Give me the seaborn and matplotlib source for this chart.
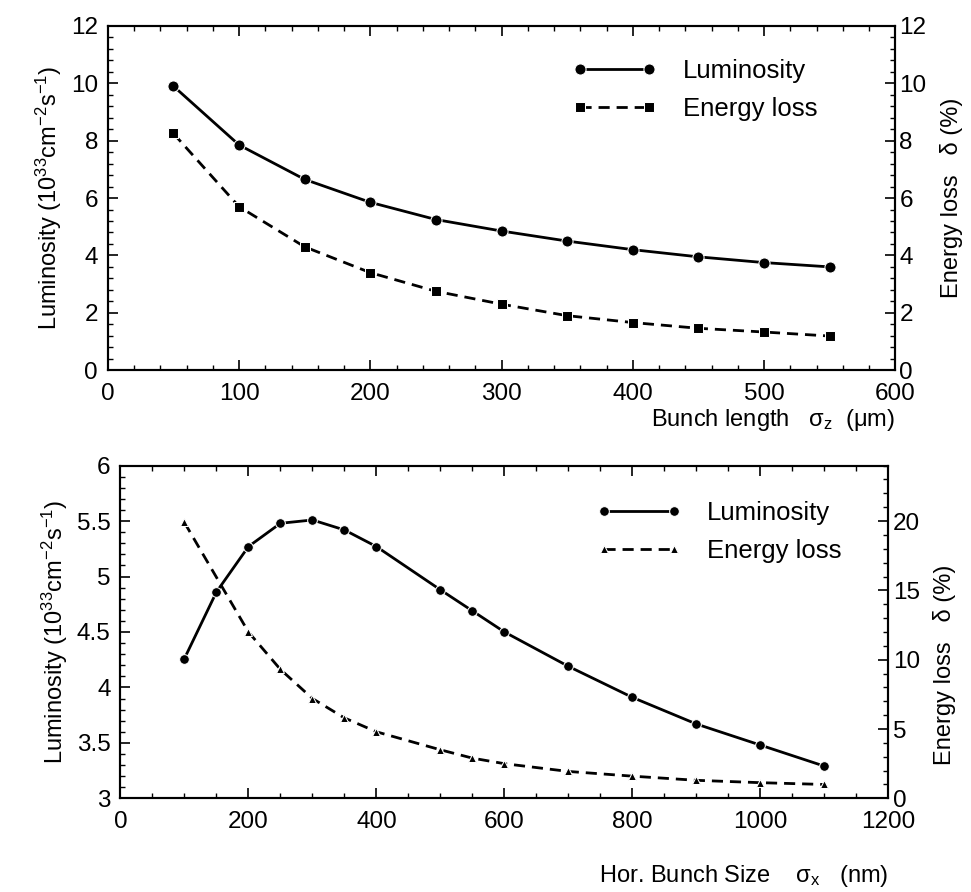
import numpy as np
import pandas as pd
import seaborn as sns
import matplotlib
matplotlib.use('Agg')
import matplotlib.pyplot as plt
from matplotlib.ticker import AutoMinorLocator, MultipleLocator

# top panel: bunch length scan
bunch_len = [50, 100, 150, 200, 250, 300, 350, 400, 450, 500, 550]
lum_len = [9.9, 7.85, 6.65, 5.85, 5.25, 4.85, 4.5, 4.2, 3.95, 3.75, 3.6]
eloss_len = [8.25, 5.7, 4.3, 3.4, 2.75, 2.3, 1.9, 1.66, 1.46, 1.33, 1.19]

# bottom panel: horizontal bunch size scan
hor_lum_x = [100, 150, 200, 250, 300, 350, 400, 500, 550, 600, 700, 800, 900, 1000, 1100]
hor_lum = [4.26, 4.86, 5.27, 5.48, 5.51, 5.42, 5.27, 4.88, 4.69, 4.5, 4.19, 3.91, 3.67, 3.48, 3.29]
hor_eloss_x = [100, 200, 250, 300, 350, 400, 500, 550, 600, 700, 800, 900, 1000, 1100]
hor_eloss = [19.9, 12.0, 9.3, 7.2, 5.8, 4.8, 3.5, 2.9, 2.5, 1.94, 1.6, 1.3, 1.13, 1.0]

sns.set_theme(style='ticks')
plt.rcParams['font.family'] = ['Liberation Sans', 'DejaVu Sans']
plt.rcParams['mathtext.fontset'] = 'custom'
plt.rcParams['mathtext.rm'] = 'Liberation Sans'
plt.rcParams['mathtext.it'] = 'Liberation Sans'
plt.rcParams['text.color'] = 'black'
plt.rcParams['axes.labelcolor'] = 'black'
plt.rcParams['xtick.color'] = 'black'
plt.rcParams['ytick.color'] = 'black'

fig = plt.figure(figsize=(9.71, 8.92), dpi=100)
ax1 = fig.add_axes([0.111, 0.585, 0.811, 0.386])
ax3 = fig.add_axes([0.124, 0.105, 0.791, 0.373])

top = pd.DataFrame({'x': bunch_len, 'lum': lum_len, 'eloss': eloss_len})
bl = pd.DataFrame({'x': hor_lum_x, 'lum': hor_lum})
be = pd.DataFrame({'x': hor_eloss_x, 'eloss': hor_eloss})

lw = 2.0
tick_fs = 17.5
lab_fs = 17
leg_fs = 18.5


def style(ax, twin, xmaj, xmin_n, ymin_n, y2min_n):
    ax.tick_params(direction='in', top=True, right=False, labelsize=tick_fs,
                   length=7, width=1.2, pad=7)
    ax.tick_params(axis='x', pad=9)
    ax.tick_params(which='minor', direction='in', top=True, right=False,
                   length=3.5, width=1)
    twin.tick_params(direction='in', labelsize=tick_fs, length=7, width=1.2, pad=3)
    twin.tick_params(which='minor', direction='in', length=3.5, width=1)
    ax.xaxis.set_major_locator(MultipleLocator(xmaj))
    ax.xaxis.set_minor_locator(AutoMinorLocator(xmin_n))
    ax.yaxis.set_minor_locator(AutoMinorLocator(ymin_n))
    twin.yaxis.set_minor_locator(AutoMinorLocator(y2min_n))
    for a in (ax, twin):
        for s in a.spines.values():
            s.set_linewidth(1.5)
            s.set_color('black')


# ---- top panel
ax2 = ax1.twinx()
sns.lineplot(data=top, x='x', y='lum', ax=ax1, color='black', lw=lw,
             marker='o', markersize=8, label='Luminosity', legend=False)
sns.lineplot(data=top, x='x', y='eloss', ax=ax2, color='black', lw=lw,
             marker='s', markersize=6.5, label='Energy loss', legend=False)
ax2.lines[0].set_linestyle((0, (4, 2.5)))
ax1.set(xlim=(0, 600), ylim=(0, 12))
ax2.set_ylim(0, 12)
ax1.yaxis.set_major_locator(MultipleLocator(2))
ax2.yaxis.set_major_locator(MultipleLocator(2))
style(ax1, ax2, 100, 5, 5, 5)
ax1.set_ylabel('Luminosity (10$^{33}$cm$^{-2}$s$^{-1}$)', fontsize=lab_fs, labelpad=5)
ax2.set_ylabel('Energy loss   \u03b4 (%)', fontsize=lab_fs, labelpad=10)
ax1.set_xlabel('Bunch length   $\\sigma_z$  (\u03bcm)', fontsize=lab_fs, loc='right',
               labelpad=2)
h = ax1.get_lines() + ax2.get_lines()
ax2.legend(h, [l.get_label() for l in h], loc='upper left',
           bbox_to_anchor=(0.59, 0.905), frameon=False, fontsize=leg_fs,
           handlelength=3.3, numpoints=2, labelspacing=0.55,
           borderaxespad=0, borderpad=0, handletextpad=1.0)

# ---- bottom panel
ax4 = ax3.twinx()
sns.lineplot(data=bl, x='x', y='lum', ax=ax3, color='black', lw=lw,
             marker='o', markersize=7, label='Luminosity', legend=False)
sns.lineplot(data=be, x='x', y='eloss', ax=ax4, color='black', lw=lw,
             marker='^', markersize=6, label='Energy loss', legend=False)
ax4.lines[0].set_linestyle((0, (4, 2.5)))
ax3.set(xlim=(0, 1200), ylim=(3, 6))
ax4.set_ylim(0, 24)
ax3.yaxis.set_major_locator(MultipleLocator(0.5))
ax4.yaxis.set_major_locator(MultipleLocator(5))
ax3.yaxis.set_major_formatter(plt.FuncFormatter(lambda v, p: f'{v:g}'))
style(ax3, ax4, 200, 4, 5, 5)
ax3.set_ylabel('Luminosity (10$^{33}$cm$^{-2}$s$^{-1}$)', fontsize=lab_fs, labelpad=5)
ax4.set_ylabel('Energy loss   \u03b4 (%)', fontsize=lab_fs, labelpad=10)
ax4.yaxis.set_label_coords(1.058, 0.4)
ax3.set_xlabel('Hor. Bunch Size    $\\sigma_x$   (nm)', fontsize=lab_fs, loc='right',
               labelpad=22)
h = ax3.get_lines() + ax4.get_lines()
ax4.legend(h, [l.get_label() for l in h], loc='upper left',
           bbox_to_anchor=(0.62, 0.895), frameon=False, fontsize=leg_fs,
           handlelength=3.3, numpoints=2, labelspacing=0.55,
           borderaxespad=0, borderpad=0, handletextpad=1.0)

fig.savefig('out.png', dpi=100, facecolor='white')
